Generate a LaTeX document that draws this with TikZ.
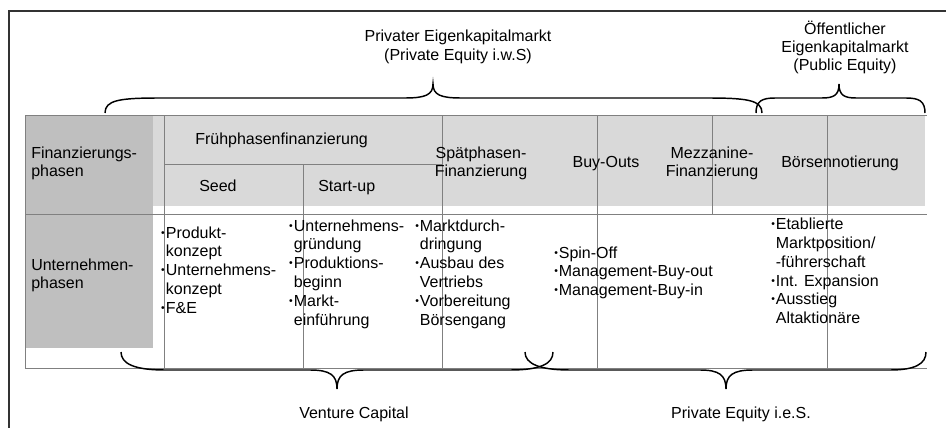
\documentclass[tikz,border=0pt]{standalone}
\usepackage{fontspec}
\usepackage{graphicx}
\setmainfont{Liberation Sans}
\definecolor{darkfill}{HTML}{BFBFBF}
\definecolor{lightfill}{HTML}{D9D9D9}
\definecolor{tablegrey}{HTML}{808080}
\definecolor{framegrey}{HTML}{333333}
\newcommand{\mybullet}{\makebox[4.2pt][c]{\raisebox{1.5pt}{\scalebox{0.65}{•}}}}
\newcommand{\myindent}{\hspace*{4.2pt}}
\begin{document}
\begin{tikzpicture}[x=0.75pt,y=-0.75pt,
  tline/.style={draw=tablegrey, line width=0.75pt},
  framestyle/.style={draw=framegrey, line width=1.5pt},
  bracestyle/.style={draw=black, line width=1.1pt},
  body/.style={inner sep=0pt, font=\fontsize{12}{14.1}\selectfont},
  hdr/.style={inner sep=0pt, font=\fontsize{12}{13.5}\selectfont}]
\useasboundingbox (0,0) rectangle (946,428);
% fills
\fill[darkfill] (25,115) rectangle (153,348);
\fill[lightfill] (153,115) rectangle (925,206);
% table lines
\draw[tline] (25,115) -- (927,115);
\draw[tline] (25,214) -- (927,214);
\draw[tline] (25,368) -- (927,368);
\draw[tline] (25,115) -- (25,368);
\draw[tline] (164,115) -- (164,368);
\draw[tline] (164,164) -- (442,164);
\draw[tline] (303,164) -- (303,368);
\draw[tline] (442,115) -- (442,368);
\draw[tline] (597,115) -- (597,368);
\draw[tline] (712,115) -- (712,214);
\draw[tline] (827,115) -- (827,368);
% outer frame
\draw[framestyle] (952,11) -- (9,11) -- (9,434);
% top braces
\draw[bracestyle] (105,113) .. controls (105,100) and (120,98) .. (160,98) -- (405,98)
  .. controls (425,98) and (433,95) .. (433,84)
  .. controls (433,95) and (441,98) .. (461,98) -- (707,98)
  .. controls (747,98) and (762,100) .. (762,113);
\draw[bracestyle] (756,113) .. controls (756,101) and (762,98) .. (775,98) -- (822,98)
  .. controls (834,98) and (839,95) .. (839,84)
  .. controls (839,95) and (844,98) .. (856,98) -- (906,98)
  .. controls (919,98) and (925,101) .. (925,113);
% bottom braces
\draw[bracestyle] (121,352) .. controls (121,364) and (135,370) .. (165,370) -- (310,370)
  .. controls (330,370) and (337,375) .. (337,389)
  .. controls (337,375) and (344,370) .. (364,370) -- (510,370)
  .. controls (540,370) and (553,364) .. (553,352);
\draw[bracestyle] (525,352) .. controls (525,364) and (540,370) .. (570,370) -- (700,370)
  .. controls (719,370) and (726,375) .. (726,389)
  .. controls (726,375) and (733,370) .. (753,370) -- (890,370)
  .. controls (915,370) and (926,364) .. (926,352);
% labels above
\node[body, anchor=base] (pem) at (458,42) {\begin{tabular}[t]{@{}c@{}}Privater Eigenkapitalmarkt\\(Private Equity i.w.S)\end{tabular}};
\node[hdr, anchor=base] (oem) at (845,35) {\begin{tabular}[t]{@{}c@{}}Öffentlicher\\Eigenkapitalmarkt\\(Public Equity)\end{tabular}};
% header row
\node[hdr, anchor=base west] (finph) at (31,158.5) {\begin{tabular}[t]{@{}l@{}}Finanzierungs-\\phasen\end{tabular}};
\node[hdr, anchor=base west] (frueh) at (195,144) {Frühphasenfinanzierung};
\node[hdr, anchor=base west] (seed) at (199,191) {Seed};
\node[hdr, anchor=base west] (startup) at (318,191) {Start-up};
\node[hdr, anchor=base] (spaet) at (481,158.5) {\begin{tabular}[t]{@{}c@{}}Spätphasen-\\Finanzierung\end{tabular}};
\node[hdr, anchor=base] (buyouts) at (606,167) {Buy-Outs};
\node[hdr, anchor=base] (mezz) at (712,158.5) {\begin{tabular}[t]{@{}c@{}}Mezzanine-\\Finanzierung\end{tabular}};
\node[hdr, anchor=base] (boerse) at (840,167) {Börsennotierung};
% body row
\node[hdr, anchor=base west] (unph) at (31,270) {\begin{tabular}[t]{@{}l@{}}Unternehmen-\\phasen\end{tabular}};
\node[body, anchor=base west] (c1) at (160,238) {\begin{tabular}[t]{@{}l@{}}\mybullet Produkt-\\\myindent konzept\\\mybullet Unternehmens-\\\myindent konzept\\\mybullet F\&E\end{tabular}};
\node[body, anchor=base west] (c2) at (288,231) {\begin{tabular}[t]{@{}l@{}}\mybullet Unternehmens-\\\myindent gründung\\\mybullet Produktions-\\\myindent beginn\\\mybullet Markt-\\\myindent einführung\end{tabular}};
\node[body, anchor=base west] (c3) at (414,231) {\begin{tabular}[t]{@{}l@{}}\mybullet Marktdurch-\\\myindent dringung\\\mybullet Ausbau des\\\myindent Vertriebs\\\mybullet Vorbereitung\\\myindent Börsengang\end{tabular}};
\node[body, anchor=base west] (c4) at (553,258) {\begin{tabular}[t]{@{}l@{}}\mybullet Spin-Off\\\mybullet Management-Buy-out\\\mybullet Management-Buy-in\end{tabular}};
\node[body, anchor=base west] (c5) at (770,229.7) {\begin{tabular}[t]{@{}l@{}}\mybullet Etablierte\\\myindent Marktposition/\\\myindent -führerschaft\\\mybullet Int. Expansion\\\mybullet Ausstieg\\\myindent Altaktionäre\end{tabular}};
% labels below
\node[hdr, anchor=base] (vc) at (354,418.5) {Venture Capital};
\node[hdr, anchor=base] (pe) at (741,418.5) {Private Equity i.e.S.};
\end{tikzpicture}
\end{document}
